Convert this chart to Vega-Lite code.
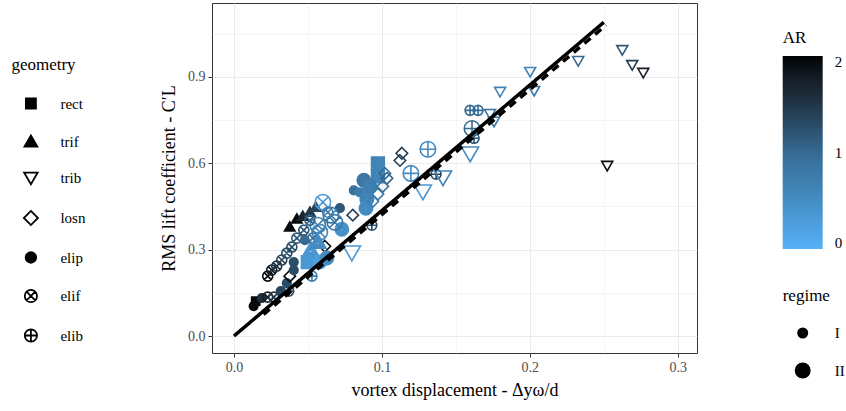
{
 "$schema": "https://vega.github.io/schema/vega-lite/v6.json",
 "width": 485,
 "height": 350,
 "autosize": {"type": "none"},
 "padding": {"left": 212, "top": 3, "right": 149, "bottom": 58},
 "config": {
  "font": "Liberation Serif",
  "view": {"stroke": "#333333", "strokeWidth": 1},
  "axis": {"domain": false, "tickSize": 4, "tickWidth": 1, "labelFont": "Liberation Serif", "titleFont": "Liberation Serif", "labelColor": "#4d4d4d", "labelFontSize": 14, "titleFontSize": 18, "titleFontWeight": "normal", "titleColor": "black", "gridColor": "#ebebeb", "labelPadding": 3},
  "legend": {"titleFont": "Liberation Serif", "labelFont": "Liberation Serif", "titleFontSize": 17, "titleFontWeight": "normal", "titleColor": "black", "labelFontSize": 15, "labelColor": "black", "symbolBaseStrokeColor": "black", "symbolBaseFillColor": "transparent", "symbolStrokeWidth": 1.8}
 },
 "datasets": {
  "pts": [
   {"geometry": "elip", "AR": 2.0, "regime": "I", "dy": 0.0133, "cl": 0.104},
   {"geometry": "rect", "AR": 2.0, "regime": "I", "dy": 0.0147, "cl": 0.121},
   {"geometry": "elip", "AR": 1.6, "regime": "I", "dy": 0.0188, "cl": 0.132},
   {"geometry": "elif", "AR": 1.8, "regime": "I", "dy": 0.0228, "cl": 0.135},
   {"geometry": "elif", "AR": 1.5, "regime": "I", "dy": 0.0269, "cl": 0.135},
   {"geometry": "elip", "AR": 1.4, "regime": "I", "dy": 0.0316, "cl": 0.156},
   {"geometry": "elip", "AR": 1.3, "regime": "I", "dy": 0.0357, "cl": 0.184},
   {"geometry": "elib", "AR": 1.3, "regime": "I", "dy": 0.0370, "cl": 0.156},
   {"geometry": "elif", "AR": 2.0, "regime": "I", "dy": 0.0228, "cl": 0.208},
   {"geometry": "elif", "AR": 1.8, "regime": "I", "dy": 0.0255, "cl": 0.229},
   {"geometry": "elif", "AR": 1.6, "regime": "I", "dy": 0.0289, "cl": 0.243},
   {"geometry": "elif", "AR": 1.4, "regime": "I", "dy": 0.0323, "cl": 0.264},
   {"geometry": "elif", "AR": 1.3, "regime": "I", "dy": 0.0357, "cl": 0.288},
   {"geometry": "elif", "AR": 1.3, "regime": "I", "dy": 0.0391, "cl": 0.309},
   {"geometry": "elif", "AR": 1.2, "regime": "I", "dy": 0.0425, "cl": 0.340},
   {"geometry": "losn", "AR": 2.0, "regime": "I", "dy": 0.0377, "cl": 0.208},
   {"geometry": "elip", "AR": 1.3, "regime": "I", "dy": 0.0404, "cl": 0.257},
   {"geometry": "elip", "AR": 1.3, "regime": "I", "dy": 0.0404, "cl": 0.229},
   {"geometry": "elib", "AR": 0.7, "regime": "I", "dy": 0.0527, "cl": 0.208},
   {"geometry": "losn", "AR": 2.0, "regime": "I", "dy": 0.0614, "cl": 0.312},
   {"geometry": "trif", "AR": 2.0, "regime": "I", "dy": 0.0377, "cl": 0.378},
   {"geometry": "trif", "AR": 2.0, "regime": "I", "dy": 0.0425, "cl": 0.406},
   {"geometry": "trif", "AR": 1.7, "regime": "I", "dy": 0.0465, "cl": 0.416},
   {"geometry": "trif", "AR": 1.5, "regime": "I", "dy": 0.0513, "cl": 0.430},
   {"geometry": "trif", "AR": 1.4, "regime": "I", "dy": 0.0553, "cl": 0.447},
   {"geometry": "rect", "AR": 0.3, "regime": "II", "dy": 0.0499, "cl": 0.257},
   {"geometry": "trif", "AR": 0.3, "regime": "II", "dy": 0.0519, "cl": 0.298},
   {"geometry": "elip", "AR": 0.2, "regime": "II", "dy": 0.0580, "cl": 0.257},
   {"geometry": "elif", "AR": 0.3, "regime": "II", "dy": 0.0601, "cl": 0.465},
   {"geometry": "elif", "AR": 0.7, "regime": "II", "dy": 0.0567, "cl": 0.385},
   {"geometry": "elif", "AR": 0.6, "regime": "II", "dy": 0.0580, "cl": 0.361},
   {"geometry": "elip", "AR": 0.4, "regime": "II", "dy": 0.0729, "cl": 0.371},
   {"geometry": "elip", "AR": 1.2, "regime": "I", "dy": 0.0716, "cl": 0.444},
   {"geometry": "elif", "AR": 0.8, "regime": "II", "dy": 0.0655, "cl": 0.420},
   {"geometry": "elif", "AR": 0.9, "regime": "I", "dy": 0.0533, "cl": 0.340},
   {"geometry": "elip", "AR": 1.0, "regime": "I", "dy": 0.0479, "cl": 0.333},
   {"geometry": "trif", "AR": 0.5, "regime": "II", "dy": 0.0567, "cl": 0.326},
   {"geometry": "rect", "AR": 0.6, "regime": "II", "dy": 0.0973, "cl": 0.600},
   {"geometry": "rect", "AR": 0.6, "regime": "II", "dy": 0.0973, "cl": 0.555},
   {"geometry": "elip", "AR": 0.8, "regime": "II", "dy": 0.0878, "cl": 0.541},
   {"geometry": "elip", "AR": 0.9, "regime": "I", "dy": 0.0810, "cl": 0.506},
   {"geometry": "elip", "AR": 0.7, "regime": "I", "dy": 0.0851, "cl": 0.499},
   {"geometry": "elip", "AR": 0.6, "regime": "II", "dy": 0.0898, "cl": 0.475},
   {"geometry": "elip", "AR": 0.7, "regime": "II", "dy": 0.0919, "cl": 0.520},
   {"geometry": "elip", "AR": 0.5, "regime": "II", "dy": 0.0892, "cl": 0.444},
   {"geometry": "losn", "AR": 1.1, "regime": "I", "dy": 0.1034, "cl": 0.548},
   {"geometry": "losn", "AR": 0.9, "regime": "I", "dy": 0.1006, "cl": 0.520},
   {"geometry": "losn", "AR": 0.8, "regime": "I", "dy": 0.0973, "cl": 0.493},
   {"geometry": "losn", "AR": 0.7, "regime": "I", "dy": 0.0939, "cl": 0.468},
   {"geometry": "losn", "AR": 1.4, "regime": "I", "dy": 0.0803, "cl": 0.420},
   {"geometry": "elib", "AR": 1.3, "regime": "I", "dy": 0.0932, "cl": 0.385},
   {"geometry": "losn", "AR": 1.5, "regime": "I", "dy": 0.1135, "cl": 0.635},
   {"geometry": "losn", "AR": 1.4, "regime": "I", "dy": 0.1122, "cl": 0.610},
   {"geometry": "elib", "AR": 0.5, "regime": "II", "dy": 0.1311, "cl": 0.649},
   {"geometry": "elib", "AR": 0.5, "regime": "II", "dy": 0.1196, "cl": 0.565},
   {"geometry": "elib", "AR": 1.4, "regime": "I", "dy": 0.1366, "cl": 0.562},
   {"geometry": "elib", "AR": 1.0, "regime": "I", "dy": 0.1596, "cl": 0.784},
   {"geometry": "elib", "AR": 1.0, "regime": "I", "dy": 0.1650, "cl": 0.784},
   {"geometry": "elib", "AR": 1.0, "regime": "II", "dy": 0.1609, "cl": 0.721},
   {"geometry": "elib", "AR": 1.2, "regime": "I", "dy": 0.1623, "cl": 0.687},
   {"geometry": "trib", "AR": 0.9, "regime": "I", "dy": 0.1731, "cl": 0.773},
   {"geometry": "trib", "AR": 0.8, "regime": "I", "dy": 0.1758, "cl": 0.746},
   {"geometry": "trib", "AR": 0.6, "regime": "I", "dy": 0.1799, "cl": 0.850},
   {"geometry": "trib", "AR": 0.6, "regime": "I", "dy": 0.2002, "cl": 0.919},
   {"geometry": "trib", "AR": 0.8, "regime": "I", "dy": 0.2029, "cl": 0.853},
   {"geometry": "trib", "AR": 1.0, "regime": "I", "dy": 0.2327, "cl": 0.957},
   {"geometry": "trib", "AR": 1.2, "regime": "I", "dy": 0.2625, "cl": 0.995},
   {"geometry": "trib", "AR": 1.5, "regime": "I", "dy": 0.2692, "cl": 0.943},
   {"geometry": "trib", "AR": 1.8, "regime": "I", "dy": 0.2767, "cl": 0.916},
   {"geometry": "trib", "AR": 2.0, "regime": "I", "dy": 0.2523, "cl": 0.593},
   {"geometry": "trib", "AR": 0.5, "regime": "II", "dy": 0.1596, "cl": 0.635},
   {"geometry": "trib", "AR": 0.6, "regime": "II", "dy": 0.1413, "cl": 0.552},
   {"geometry": "trib", "AR": 0.35, "regime": "II", "dy": 0.1277, "cl": 0.503},
   {"geometry": "trib", "AR": 0.3, "regime": "II", "dy": 0.0797, "cl": 0.291},
   {"geometry": "elif", "AR": 0.7, "regime": "I", "dy": 0.0634, "cl": 0.430},
   {"geometry": "elif", "AR": 0.8, "regime": "II", "dy": 0.0682, "cl": 0.395},
   {"geometry": "elif", "AR": 1.1, "regime": "I", "dy": 0.0513, "cl": 0.402},
   {"geometry": "elif", "AR": 1.2, "regime": "I", "dy": 0.0472, "cl": 0.368},
   {"geometry": "elip", "AR": 0.5, "regime": "II", "dy": 0.0628, "cl": 0.271},
   {"geometry": "losn", "AR": 1.0, "regime": "I", "dy": 0.1020, "cl": 0.565}
  ],
  "fit": [
   {"fit": "solid", "dy": 0.0, "cl": 0.0},
   {"fit": "solid", "dy": 0.25, "cl": 1.09},
   {"fit": "dashed", "dy": 0.02, "cl": 0.075},
   {"fit": "dashed", "dy": 0.2515, "cl": 1.08}
  ]
 },
 "layer": [
  {
   "data": {"name": "pts"},
   "mark": {"type": "point", "filled": false, "opacity": 1, "strokeWidth": 1.6},
   "encoding": {
    "x": {"field": "dy", "type": "quantitative", "scale": {"domain": [-0.01486, 0.313], "nice": false, "zero": false},
     "axis": {"title": "vortex displacement - Δyω/d", "values": [0, 0.05, 0.1, 0.15, 0.2, 0.25, 0.3], "titlePadding": 7,
      "labelExpr": "abs(datum.value*10 - round(datum.value*10)) < 0.01 ? format(datum.value, '.1f') : ''",
      "tickColor": {"condition": {"test": "abs(datum.value*10 - round(datum.value*10)) > 0.01", "value": "transparent"}, "value": "#333333"},
      "gridWidth": {"condition": {"test": "abs(datum.value*10 - round(datum.value*10)) > 0.01", "value": 0.5}, "value": 1}}},
    "y": {"field": "cl", "type": "quantitative", "scale": {"domain": [-0.059, 1.157], "nice": false, "zero": false},
     "axis": {"title": "RMS lift coefficient - C′L", "values": [0, 0.15, 0.3, 0.45, 0.6, 0.75, 0.9, 1.05], "titlePadding": 9,
      "labelExpr": "abs(datum.value/0.3 - round(datum.value/0.3)) < 0.01 ? format(datum.value, '.1f') : ''",
      "tickColor": {"condition": {"test": "abs(datum.value/0.3 - round(datum.value/0.3)) > 0.01", "value": "transparent"}, "value": "#333333"},
      "gridWidth": {"condition": {"test": "abs(datum.value/0.3 - round(datum.value/0.3)) > 0.01", "value": 0.5}, "value": 1}}},
    "shape": {"field": "geometry", "type": "nominal",
     "scale": {"domain": ["rect", "trif", "trib", "losn", "elip", "elif", "elib"],
      "range": [
       "M-0.82,-0.82H0.82V0.82H-0.82ZM-0.64,-0.64H0.64V0.64H-0.64ZM-0.46,-0.46H0.46V0.46H-0.46ZM-0.28,-0.28H0.28V0.28H-0.28ZM-0.1,-0.1H0.1V0.1H-0.1Z",
       "M0,-1.05L1.05,0.77L-1.05,0.77ZM0,-0.745L0.787,0.62L-0.787,0.62ZM0,-0.44L0.525,0.47L-0.525,0.47ZM0,-0.135L0.262,0.32L-0.262,0.32Z",
       "M0,1.1L1.1,-0.8L-1.1,-0.8Z",
       "M0,-1.15L1.15,0L0,1.15L-1.15,0Z",
       "M0.86,0A0.86,0.86,0,1,1,-0.86,0A0.86,0.86,0,1,1,0.86,0ZM0.68,0A0.68,0.68,0,1,1,-0.68,0A0.68,0.68,0,1,1,0.68,0ZM0.5,0A0.5,0.5,0,1,1,-0.5,0A0.5,0.5,0,1,1,0.5,0ZM0.32,0A0.32,0.32,0,1,1,-0.32,0A0.32,0.32,0,1,1,0.32,0ZM0.14,0A0.14,0.14,0,1,1,-0.14,0A0.14,0.14,0,1,1,0.14,0Z",
       "M1,0A1,1,0,1,1,-1,0A1,1,0,1,1,1,0ZM-0.7,-0.7L0.7,0.7M-0.7,0.7L0.7,-0.7",
       "M1,0A1,1,0,1,1,-1,0A1,1,0,1,1,1,0ZM-1,0H1M0,-1V1"]},
     "legend": {"title": "geometry", "orient": "none", "legendX": -200.6, "legendY": 54, "symbolSize": 150, "rowPadding": 18.5, "symbolOffset": 12, "labelOffset": 22, "titlePadding": 22, "symbolStrokeColor": "black", "symbolStrokeWidth": 1.8}},
    "color": {"field": "AR", "type": "quantitative",
     "scale": {"domain": [-0.07, 1.0, 2.07], "range": ["#56B1F7", "#356b93", "#000000"], "interpolate": "lab"},
     "legend": {"type": "gradient", "title": "AR", "orient": "none", "legendX": 570.7, "legendY": 26.5, "direction": "vertical", "gradientLength": 193, "gradientThickness": 40, "tickCount": 3, "format": "d", "titlePadding": 9.5, "labelOffset": 12, "gradientStrokeWidth": 0}},
    "size": {"field": "regime", "type": "ordinal", "scale": {"domain": ["I", "II"], "range": [100, 240]},
     "legend": {"title": "regime", "orient": "none", "legendX": 570.7, "legendY": 284.5,
      "symbolType": "M0.9,0A0.9,0.9,0,1,1,-0.9,0A0.9,0.9,0,1,1,0.9,0ZM0.65,0A0.65,0.65,0,1,1,-0.65,0A0.65,0.65,0,1,1,0.65,0ZM0.4,0A0.4,0.4,0,1,1,-0.4,0A0.4,0.4,0,1,1,0.4,0ZM0.15,0A0.15,0.15,0,1,1,-0.15,0A0.15,0.15,0,1,1,0.15,0Z",
      "symbolStrokeColor": "black", "symbolFillColor": "black", "symbolStrokeWidth": 2, "rowPadding": 18, "symbolOffset": 11, "labelOffset": 23, "titlePadding": 21}}
   }
  },
  {
   "data": {"name": "fit"},
   "mark": {"type": "line", "color": "black", "strokeWidth": 3.5},
   "encoding": {
    "x": {"field": "dy", "type": "quantitative", "scale": {"domain": [-0.01486, 0.313], "nice": false, "zero": false}},
    "y": {"field": "cl", "type": "quantitative", "scale": {"domain": [-0.059, 1.157], "nice": false, "zero": false}},
    "strokeDash": {"field": "fit", "type": "nominal", "scale": {"domain": ["solid", "dashed"], "range": [[1, 0], [8, 6]]}, "legend": null}
   }
  }
 ]
}
